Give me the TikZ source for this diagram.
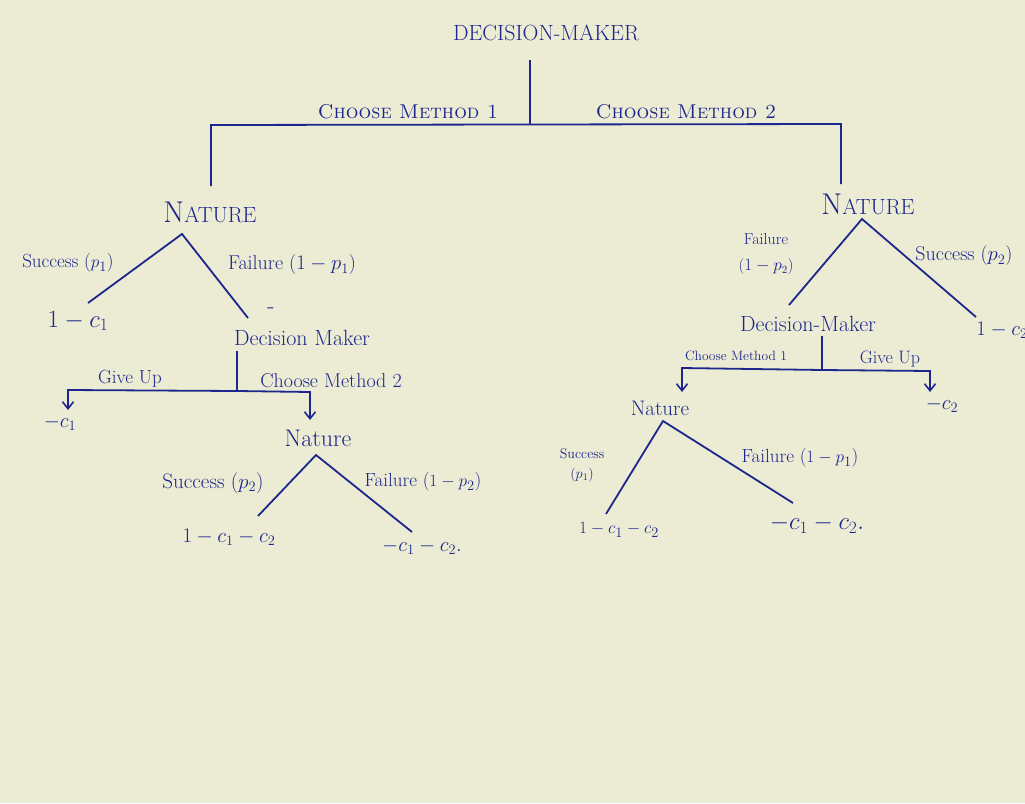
\documentclass[tikz,border=0pt]{standalone}
\usetikzlibrary{arrows.meta}
\definecolor{paper}{RGB}{236,236,212}
\definecolor{ink}{RGB}{28,38,140}
\newcommand{\fs}[1]{\fontsize{#1}{#1}\selectfont}
\begin{document}
\begin{tikzpicture}[x=1pt,y=-1pt,
  line width=1.8pt, draw=ink,
  every node/.style={text=ink, inner sep=1pt},
  title/.style={font=\fs{22}},
  caps/.style={font=\fontsize{20}{22}\selectfont\scshape},
  bignat/.style={font=\fs{22}},
  lbl/.style={font=\fs{19}},
  pay/.style={font=\fs{21}},
  arr/.style={-{Straight Barb[length=7pt,width=11pt,line width=1.6pt]}}]
\fill[paper] (0,0) rectangle (1025,803);
\useasboundingbox (0,0) rectangle (1025,803);

% ---------- top decision ----------
\node[title] (dm) at (546,33) {DECISION-MAKER};
\coordinate (t0) at (530,60);
\coordinate (j0) at (530,124);
\coordinate (c1) at (211,125);
\coordinate (c2) at (841,124);
\coordinate (l1) at (211,186);
\coordinate (r1) at (841,184);
\draw (t0) -- (j0);
\draw (l1) -- (c1) -- (c2) -- (r1);
\node[caps] (m1) at (408,112) {Choose Method 1};
\node[caps] (m2) at (686,112) {Choose Method 2};

% ---------- left subtree ----------
\node[bignat] (nat1) at (210,212) {{\fs{30}N}ATURE};
\coordinate (a1) at (182,234);
\coordinate (s1) at (88,303);
\coordinate (f1) at (248,318);
\draw (s1) -- (a1) -- (f1);
\node[lbl] (ls1) at (68,263) {Success ($p_1$)};
\node[lbl, font=\fs{20}] (lf1) at (292,265) {Failure ($1-p_1$)};
\node[pay, font=\fs{23}] (p1) at (78,321) {$1-c_1$};
\node[pay, font=\fs{24}] (dash) at (271,311) {-};
\node[lbl, font=\fs{22}] (dm2) at (302,338) {Decision Maker};
\coordinate (d2) at (237,351);
\coordinate (j2) at (237,391);
\coordinate (g2) at (68,390);
\coordinate (h2) at (310,392);
\coordinate (g2e) at (68,410);
\coordinate (h2e) at (310,420);
\draw (d2) -- (j2);
\draw[arr] (j2) -- (g2) -- (g2e);
\draw[arr] (j2) -- (h2) -- (h2e);
\node[lbl] (gu1) at (130,379) {Give Up};
\node[lbl, font=\fs{20}] (cm2) at (331,381) {Choose Method 2};
\node[pay, font=\fs{22}] (p2) at (60,423) {$-c_1$};
\node[lbl, font=\fs{24}] (nat2) at (318,438) {Nature};
\coordinate (a2) at (316,455);
\coordinate (s2) at (258,516);
\coordinate (f2) at (412,532);
\draw (s2) -- (a2) -- (f2);
\node[lbl, font=\fs{21}] (ls2) at (213,483) {Success ($p_2$)};
\node[lbl] (lf2) at (423,482) {Failure ($1-p_2$)};
\node[pay, font=\fs{22}] (p3) at (229,537) {$1-c_1-c_2$};
\node[pay, font=\fs{20}] (p4) at (422,547) {$-c_1-c_2.$};

% ---------- right subtree ----------
\node[bignat] (nat3) at (868,204) {{\fs{30}N}ATURE};
\coordinate (a3) at (862,219);
\coordinate (f3) at (789,305);
\coordinate (s3) at (976,317);
\draw (f3) -- (a3) -- (s3);
\node[lbl, align=center, font=\fontsize{16}{26}\selectfont] (lf3) at (766,254) {Failure\\($1-p_2$)};
\node[lbl, font=\fs{20}] (ls3) at (964,256) {Success ($p_2$)};
\node[pay, font=\fs{21}] (p5) at (1002,330) {$1-c_2$};
\node[lbl, font=\fs{22}] (dm3) at (808,324) {Decision-Maker};
\coordinate (d3) at (822,336);
\coordinate (j3) at (822,370);
\coordinate (g3) at (682,368);
\coordinate (h3) at (930,371);
\coordinate (g3e) at (682,392);
\coordinate (h3e) at (930,392);
\draw (d3) -- (j3);
\draw[arr] (j3) -- (g3) -- (g3e);
\draw[arr] (j3) -- (h3) -- (h3e);
\node[lbl, font=\fs{13.5}] (cm1) at (736,356) {Choose Method 1};
\node[lbl, font=\fs{18}] (gu2) at (890,359) {Give Up};
\node[pay] (p6) at (942,405) {$-c_2$};
\node[lbl, font=\fs{21}] (nat4) at (660,408) {Nature};
\coordinate (a4) at (663,421);
\coordinate (s4) at (606,514);
\coordinate (f4) at (793,503);
\draw (s4) -- (a4) -- (f4);
\node[lbl, align=center, font=\fontsize{14}{20}\selectfont] (ls4) at (582,465) {Success\\($p_1$)};
\node[lbl] (lf4) at (800,458) {Failure ($1-p_1$)};
\node[pay, font=\fs{19}] (p7) at (619,530) {$1-c_1-c_2$};
\node[pay, font=\fs{23}] (p8) at (817,524) {$-c_1-c_2.$};
\end{tikzpicture}
\end{document}
